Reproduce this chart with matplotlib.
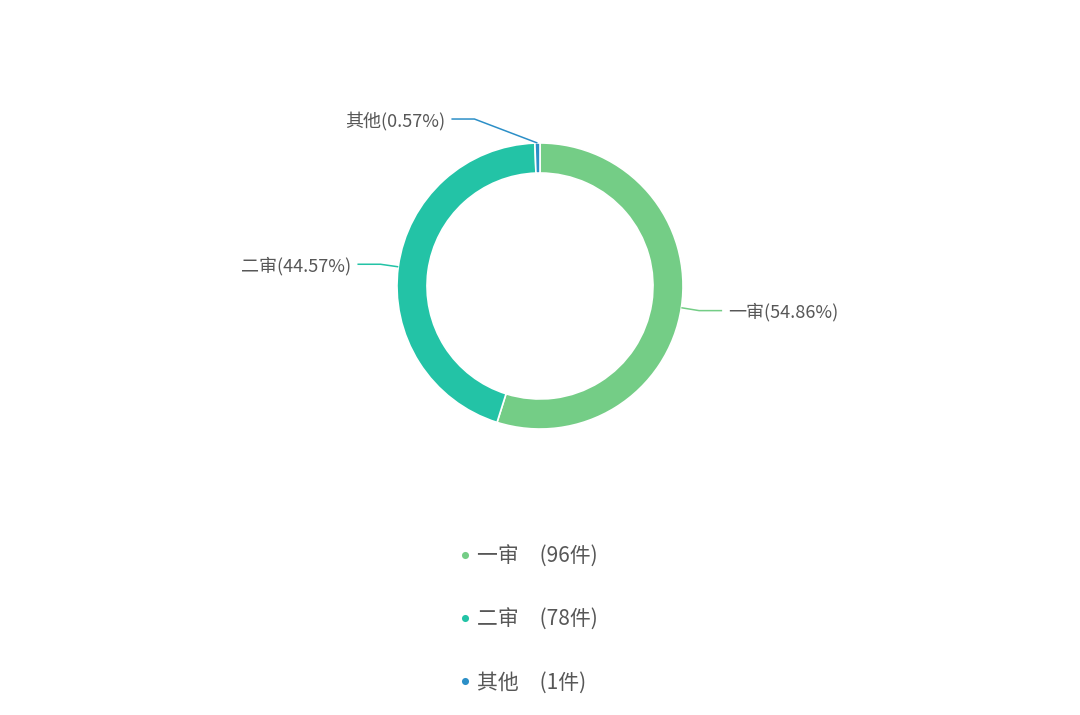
import numpy as np
import matplotlib
matplotlib.use("Agg")
import matplotlib.pyplot as plt

plt.rcParams['font.family'] = ['Noto Sans CJK SC', 'DejaVu Sans']

# ============ Data ============
categories = ["一审", "二审", "其他"]
counts = [96, 78, 1]
colors = ["#74cd86", "#23c3a6", "#2c8fc7"]

W, H = 1080, 715
total = sum(counts)
pcts = [c / total * 100 for c in counts]

fig = plt.figure(figsize=(W / 100, H / 100), dpi=100)
ax = fig.add_axes([0, 0, 1, 1])

cx, cy = 540, H - 286
R, ring = 143, 30

wedges, _ = ax.pie(counts, colors=colors, startangle=90, counterclock=False,
                   center=(cx, cy), radius=R,
                   wedgeprops=dict(width=ring, edgecolor="white", linewidth=1.2))
ax.set_xlim(0, W)
ax.set_ylim(0, H)
ax.set_aspect("equal")
ax.axis("off")

# label leader lines: elbow offset per label (layout only)
elbow = {"一审": None, "二审": None, "其他": (-63, 24)}
tcol = "#575757"
for w, name, p, col in zip(wedges, categories, pcts, colors):
    mid = np.deg2rad((w.theta1 + w.theta2) / 2)
    x0, y0 = cx + R * np.cos(mid), cy + R * np.sin(mid)
    if elbow[name] is None:
        x1, y1 = cx + (R + 18) * np.cos(mid), cy + (R + 19) * np.sin(mid)
    else:
        x1, y1 = x0 + elbow[name][0], y0 + elbow[name][1]
    side = 1 if np.cos(mid) > 0 else -1
    if name == "其他":
        side = -1
    x2 = x1 + side * 23
    ax.plot([x0, x1, x2], [y0, y1, y1], color=col, lw=1.1, solid_capstyle="butt")
    ax.text(x2 + side * 6, y1 - 1.5, f"{name}({p:.2f}%)", ha="left" if side > 0 else "right",
            va="center", fontsize=13, color=tcol)

# legend at bottom
leg_y = [H - 555, H - 618, H - 681]
for name, c, col, y in zip(categories, counts, colors, leg_y):
    ax.scatter([465], [y], s=26, color=col, zorder=3, linewidths=0)
    ax.text(477, y - 2, f"{name}\u3000({c}件)", ha="left", va="center", fontsize=15, color=tcol)

fig.savefig("out.png", dpi=100, facecolor="white")
